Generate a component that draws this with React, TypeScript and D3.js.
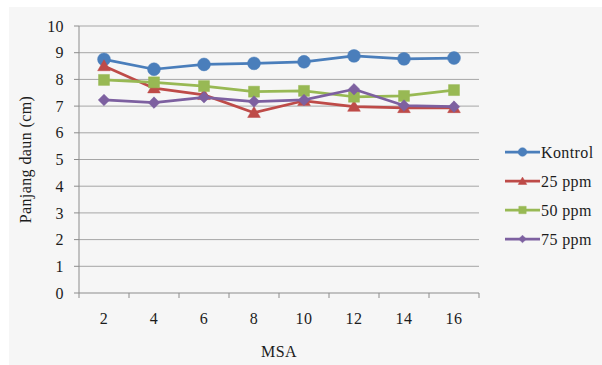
import React from "react";
import * as d3 from "d3";

// MSA (minggu setelah aplikasi) categories and leaf length series (cm)
const msa = ["2", "4", "6", "8", "10", "12", "14", "16"];
const kontrol = [8.75, 8.38, 8.56, 8.6, 8.66, 8.88, 8.77, 8.8];
const ppm25 = [8.5, 7.67, 7.42, 6.75, 7.2, 6.98, 6.93, 6.93];
const ppm50 = [7.98, 7.89, 7.75, 7.54, 7.57, 7.35, 7.38, 7.6];
const ppm75 = [7.23, 7.13, 7.33, 7.17, 7.23, 7.63, 7.02, 6.98];
const yTicks = [0, 1, 2, 3, 4, 5, 6, 7, 8, 9, 10];

type Shape = "circle" | "triangle" | "square" | "diamond";
const series: { name: string; values: number[]; color: string; shape: Shape }[] = [
  { name: "Kontrol", values: kontrol, color: "#4a7ebb", shape: "circle" },
  { name: "25 ppm", values: ppm25, color: "#be4b48", shape: "triangle" },
  { name: "50 ppm", values: ppm50, color: "#98b954", shape: "square" },
  { name: "75 ppm", values: ppm75, color: "#7d60a0", shape: "diamond" },
];

const W = 602;
const H = 365;
const plot = { left: 79, right: 479, top: 26, bottom: 293 };
const font = "'Liberation Serif', 'Times New Roman', serif";

const symbolType: Record<Shape, d3.SymbolType> = {
  circle: d3.symbolCircle,
  triangle: d3.symbolTriangle,
  square: d3.symbolSquare,
  diamond: d3.symbolDiamond2,
};
const symbolSize: Record<Shape, number> = {
  circle: 130,
  triangle: 70,
  square: 120,
  diamond: 85,
};

function Marker({ shape, color, x, y, scale = 1 }: { shape: Shape; color: string; x: number; y: number; scale?: number }) {
  const d = d3.symbol().type(symbolType[shape]).size(symbolSize[shape] * scale)()!;
  const dy = shape === "triangle" ? 1 : 0;
  return <path d={d} transform={`translate(${x},${y + dy})`} fill={color} stroke={color} strokeWidth={0.5} />;
}

function Label(props: React.SVGProps<SVGTextElement>) {
  return <text fontFamily={font} fontSize={16} fill="#1c1c1c" letterSpacing={0.4} {...props} />;
}

export default function App() {
  const x = d3.scaleBand<string>().domain(msa).range([plot.left, plot.right]);
  const y = d3.scaleLinear().domain([0, 10]).range([plot.bottom, plot.top]);
  const cx = (c: string) => (x(c) ?? 0) + x.bandwidth() / 2;
  const line = d3
    .line<number>()
    .x((_, i) => cx(msa[i]))
    .y((v) => y(v));

  const legendX = 505;
  const legendY = [152, 181, 210, 239];

  return (
    <svg width={W} height={H} style={{ position: "absolute", left: 0, top: 0 }}>
      <rect x={0} y={0} width={W} height={H} fill="#ffffff" />
      <rect x={9} y={7} width={W - 9} height={H - 7} fill="#f6f6f6" />

      {/* horizontal gridlines and y ticks */}
      {yTicks.map((t) => (
        <g key={t}>
          {t > 0 && (
            <line x1={plot.left} x2={plot.right} y1={y(t)} y2={y(t)} stroke="#a6a6a6" strokeWidth={1} />
          )}
          <line x1={plot.left - 5} x2={plot.left} y1={y(t)} y2={y(t)} stroke="#8c8c8c" strokeWidth={1} />
          <Label x={plot.left - 15} y={y(t)} dy="0.35em" textAnchor="end">
            {t}
          </Label>
        </g>
      ))}

      {/* axes */}
      <line x1={plot.left} x2={plot.left} y1={plot.top} y2={plot.bottom} stroke="#8c8c8c" strokeWidth={1} />
      <line x1={plot.left} x2={plot.right} y1={plot.bottom} y2={plot.bottom} stroke="#8c8c8c" strokeWidth={1} />
      {msa.map((c) => (
        <line
          key={"t" + c}
          x1={(x(c) ?? 0) + x.bandwidth()}
          x2={(x(c) ?? 0) + x.bandwidth()}
          y1={plot.bottom}
          y2={plot.bottom + 5}
          stroke="#8c8c8c"
        />
      ))}
      <line x1={plot.left} x2={plot.left} y1={plot.bottom} y2={plot.bottom + 5} stroke="#8c8c8c" />
      {msa.map((c) => (
        <Label key={"l" + c} x={cx(c)} y={plot.bottom + 25} dy="0.35em" textAnchor="middle">
          {c}
        </Label>
      ))}

      <Label x={(plot.left + plot.right) / 2} y={351} dy="0.35em" textAnchor="middle">
        MSA
      </Label>
      <Label
        transform={`translate(25,${(plot.top + plot.bottom) / 2}) rotate(-90)`}
        dy="0.35em"
        textAnchor="middle"
      >
        Panjang daun (cm)
      </Label>

      {/* series */}
      {series.map((s) => (
        <g key={s.name}>
          <path d={line(s.values)!} fill="none" stroke={s.color} strokeWidth={2.75} strokeLinejoin="round" />
          {s.values.map((v, i) => (
            <Marker key={i} shape={s.shape} color={s.color} x={cx(msa[i])} y={y(v)} />
          ))}
        </g>
      ))}

      {/* legend */}
      {series.map((s, i) => (
        <g key={"lg" + s.name}>
          <line x1={legendX} x2={legendX + 35} y1={legendY[i]} y2={legendY[i]} stroke={s.color} strokeWidth={2.75} />
          <Marker shape={s.shape} color={s.color} x={legendX + 17.5} y={legendY[i]} scale={0.45} />
          <Label x={legendX + 36} y={legendY[i]} dy="0.35em">
            {s.name}
          </Label>
        </g>
      ))}
    </svg>
  );
}
